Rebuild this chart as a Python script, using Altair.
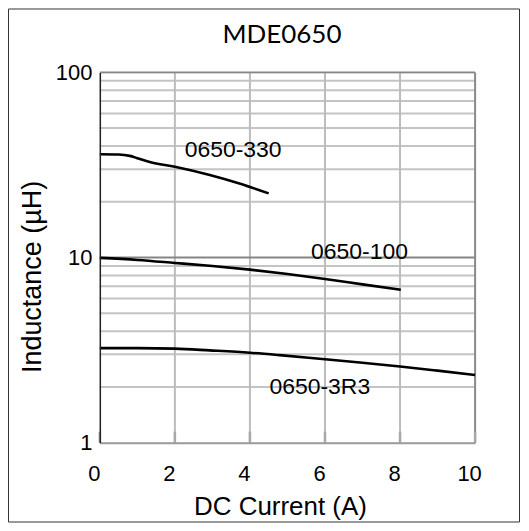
import altair as alt
import pandas as pd

# ---- data ----
series_names = ["0650-330", "0650-100", "0650-3R3"]

current_330 = [0, 0.5, 0.8, 1.0, 1.33, 2.0, 2.93, 3.72, 4.5]
induct_330 = [36.1, 36.0, 35.4, 34.4, 32.8, 30.9, 27.9, 25.1, 22.2]

current_100 = [0, 1, 2, 3, 4, 5, 6, 7, 8.02]
induct_100 = [9.95, 9.7, 9.35, 9.0, 8.6, 8.15, 7.66, 7.16, 6.69]

current_3r3 = [0, 1, 2, 2.93, 4, 4.79, 6, 7, 8, 9, 10]
induct_3r3 = [3.24, 3.24, 3.22, 3.15, 3.06, 2.97, 2.82, 2.70, 2.58, 2.45, 2.32]

label_x = [2.26, 5.63, 4.52]
label_y = [34.7, 9.78, 1.84]

x_ticks = [0, 2, 4, 6, 8, 10]
y_ticks = [1, 10, 100]
x_grid = [2, 4, 6, 8]
y_grid_minor = [2, 3, 4, 5, 6, 7, 8, 9, 20, 30, 40, 50, 60, 70, 80, 90]
y_grid_major = [10, 100]
x_right = [10]

# ---- tables ----
rows = []
for name, xs, ys in [(series_names[0], current_330, induct_330),
                     (series_names[1], current_100, induct_100),
                     (series_names[2], current_3r3, induct_3r3)]:
    for i, (a, b) in enumerate(zip(xs, ys)):
        rows.append({"series": name, "current": a, "inductance": b, "order": i})
curves = pd.DataFrame(rows)
labels = pd.DataFrame({"series": series_names, "current": label_x, "inductance": label_y})
vgrid = pd.DataFrame({"current": x_grid})
vright = pd.DataFrame({"current": x_right})
vticks = pd.DataFrame({"current": x_ticks})
hminor = pd.DataFrame({"inductance": y_grid_minor})
hmajor = pd.DataFrame({"inductance": y_grid_major})
one = pd.DataFrame({"a": [0]})

FONT = "Liberation Sans"
W, H = 376, 371

xscale = alt.Scale(domain=[0, 10], nice=False)
yscale = alt.Scale(type="log", domain=[1, 100], nice=False)

x_axis = alt.Axis(values=x_ticks, title="DC Current (A)", grid=False, ticks=False,
                  domainColor="#9a9a9a", domainWidth=2, labelFont=FONT, labelFontSize=22,
                  labelColor="black", labelPadding=21, labelOffset=-6, labelFlush=False,
                  titleFont=FONT, titleFontSize=26, titleFontWeight="normal", titleColor="black",
                  titleX=180.5, titleY=72, titleBaseline="alphabetic", zindex=1)
y_axis = alt.Axis(values=y_ticks, format="d", title="Inductance (µH)", grid=False, ticks=False,
                  domainColor="#222222", domainWidth=1.5, labelFont=FONT, labelFontSize=22,
                  labelColor="black", labelPadding=8, labelFlush=False,
                  titleFont=FONT, titleFontSize=27, titleFontWeight="normal", titleColor="black",
                  titleX=-59, titleY=204.5, titleBaseline="alphabetic", titleAlign="center", zindex=1)

X = alt.X("current:Q", scale=xscale, axis=x_axis)
Y = alt.Y("inductance:Q", scale=yscale, axis=y_axis)

h_minor = alt.Chart(hminor).mark_rule(color="#c4c4c4", strokeWidth=2).encode(y=Y)
v_grid = alt.Chart(vgrid).mark_rule(color="#bcbcbc", strokeWidth=2).encode(x=X)
h_major = alt.Chart(hmajor).mark_rule(color="#858585", strokeWidth=2).encode(y=Y)
v_right = alt.Chart(vright).mark_rule(color="#8a8a8a", strokeWidth=2).encode(x=X)
ticks_in = alt.Chart(vticks).mark_rule(color="#a8a8a8", strokeWidth=2.5).encode(
    x=X, y=alt.value(H), y2=alt.value(H - 11))

lines = alt.Chart(curves).mark_line(color="black", strokeWidth=2.6, interpolate="monotone").encode(
    x=X, y=Y, detail="series:N", order="order:Q")

texts = alt.Chart(labels).mark_text(font=FONT, fontSize=23, align="left",
                                    baseline="alphabetic", color="black").encode(
    x=X, y=Y, text="series:N")

title = alt.Chart(one).mark_text(text="MDE0650", font="Lato", fontSize=26, align="center",
                                 baseline="alphabetic", color="black").encode(
    x=alt.value(182.5), y=alt.value(-29.7))

frame = alt.Chart(one).mark_rect(fillOpacity=0, stroke="#333333", strokeWidth=1).encode(
    x=alt.value(-91.5), x2=alt.value(420.5), y=alt.value(-63.5), y2=alt.value(450.5))

chart = alt.layer(h_minor, v_grid, h_major, v_right, ticks_in, lines, texts, title, frame).properties(
    width=W, height=H,
    autosize=alt.AutoSizeParams(type="none"),
    padding={"left": 92, "top": 64, "right": 46, "bottom": 80},
).configure_view(strokeWidth=0).configure(background="white")

chart.save("out.html", embed_options={"renderer": "svg", "actions": False})
